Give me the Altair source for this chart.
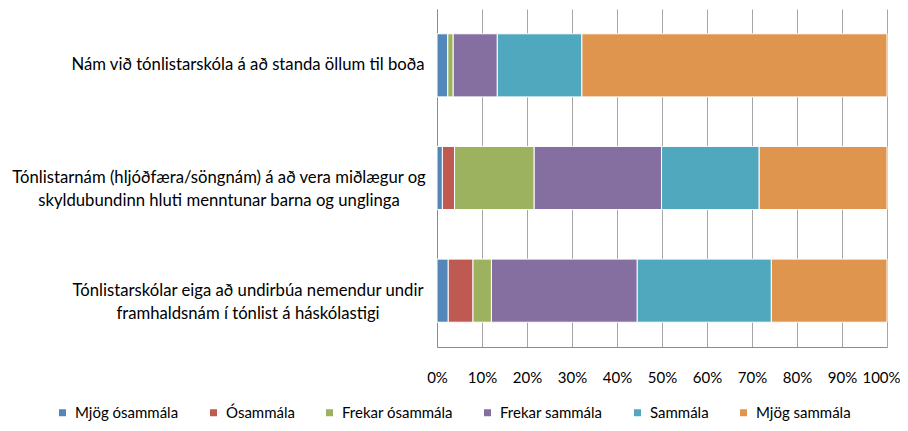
import altair as alt
import pandas as pd

questions = [
    "Nám við tónlistarskóla á að standa öllum til boða",
    "Tónlistarnám (hljóðfæra/söngnám) á að vera miðlægur og\nskyldubundinn hluti menntunar barna og unglinga",
    "Tónlistarskólar eiga að undirbúa nemendur undir\nframhaldsnám í tónlist á háskólastigi",
]
categories = ["Mjög ósammála", "Ósammála", "Frekar ósammála", "Frekar sammála", "Sammála", "Mjög sammála"]
colors = ["#5487B9", "#BE5A52", "#9DB25E", "#856EA0", "#4FA8BE", "#E0954F"]

mjog_osammala = [2.4, 1.2, 2.5]
osammala = [0.0, 2.7, 5.5]
frekar_osammala = [1.2, 17.7, 4.1]
frekar_sammala = [9.8, 28.3, 32.4]
sammala = [18.8, 21.7, 29.8]
mjog_sammala = [67.8, 28.4, 25.7]

series = [mjog_osammala, osammala, frekar_osammala, frekar_sammala, sammala, mjog_sammala]
tick_values = [0, 0.1, 0.2, 0.3, 0.4, 0.5, 0.6, 0.7, 0.8, 0.9, 1.0]

rows = []
for ci, (cat, vals) in enumerate(zip(categories, series)):
    for q, v in zip(questions, vals):
        rows.append({"question": q, "category": cat, "value": v, "order": ci})
df = pd.DataFrame(rows)
labels_df = pd.DataFrame({"question": questions, "idx": [0, 1, 2]})

FONT = "Lato"

yscale = alt.Scale(domain=questions, paddingInner=0.44, paddingOuter=0.22)

bars = alt.Chart(df).mark_bar(stroke="white", strokeWidth=1).encode(
    x=alt.X("value:Q", stack="normalize",
            scale=alt.Scale(domain=[0, 1]),
            axis=alt.Axis(format="%", values=tick_values, grid=True, gridColor="#a6a6a6",
                          gridWidth=1, ticks=False, tickSize=0, labelPadding=30,
                          labelOverlap=False, labelFlush=False,
                          labelOffset=alt.condition("datum.value >= 1", alt.value(-6), alt.value(0)),
                          labelBaseline="middle", labelFont=FONT, labelFontSize=15,
                          labelColor="#000000", domainColor="#8c8c8c", title=None)),
    y=alt.Y("question:N", scale=yscale,
            axis=alt.Axis(labels=False, ticks=False, tickSize=0, grid=False,
                          domainColor="#8c8c8c", title=None)),
    color=alt.Color("category:N", scale=alt.Scale(domain=categories, range=colors),
                    legend=alt.Legend(orient="none", direction="horizontal", legendX=-382,
                                      legendY=396, title=None, symbolType="square",
                                      symbolSize=49, symbolStrokeWidth=0, labelFont=FONT,
                                      labelFontSize=15, labelColor="#000000",
                                      columnPadding=27, labelOffset=5)),
    order=alt.Order("order:Q"),
)

text_common = dict(align="center", baseline="middle", lineBreak="\n", font=FONT,
                   fontSize=16.7, lineHeight=23, color="#000000")

labels_a = alt.Chart(labels_df).transform_filter("datum.idx != 1").mark_text(**text_common).encode(
    y=alt.Y("question:N", scale=yscale),
    x=alt.value(-189),
    text="question:N",
)
labels_b = alt.Chart(labels_df).transform_filter("datum.idx == 1").mark_text(**text_common).encode(
    y=alt.Y("question:N", scale=yscale),
    x=alt.value(-218),
    text="question:N",
)

chart = alt.layer(bars, labels_a, labels_b).properties(
    width=450, height=338,
    autosize=alt.AutoSizeParams(type="none"),
    padding={"left": 429, "top": 1, "right": 13, "bottom": 76},
).configure_view(stroke="transparent")

chart.save("out.html", embed_options={"renderer": "svg", "actions": False})
